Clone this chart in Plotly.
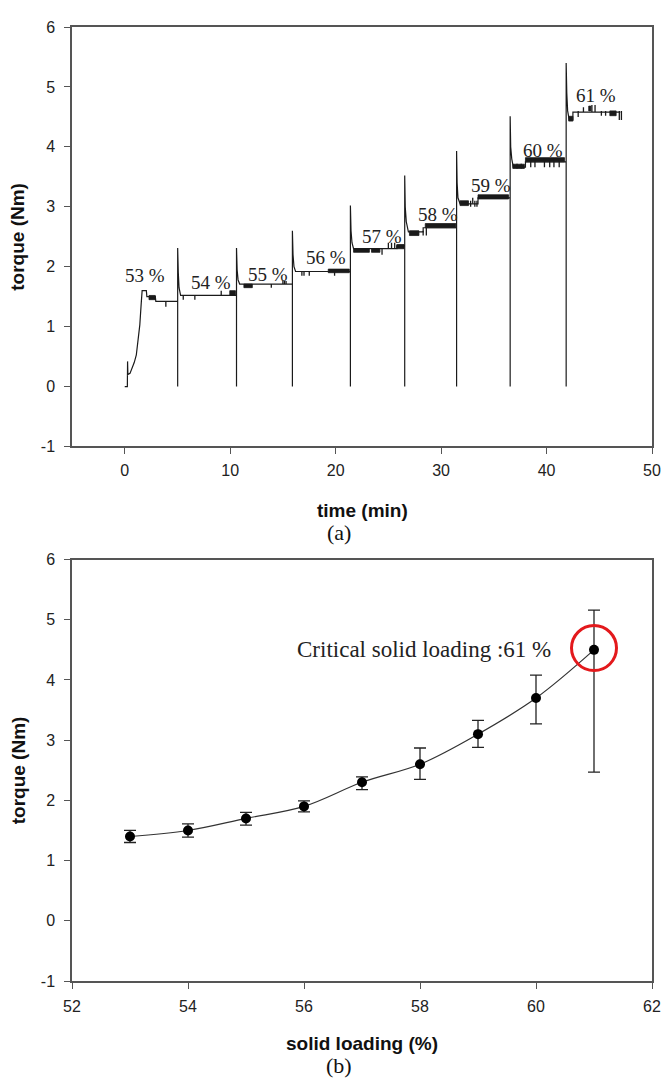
import plotly.graph_objects as go

# ---------------- (a) torque vs time ----------------
time_min = [0, 0.25, 0.27, 0.3, 0.5, 0.7, 0.9, 1.1, 1.3, 1.43, 1.55, 1.65, 2.05, 2.1, 2.9, 2.95, 5.02,
            5.02, 5.02, 5.08, 5.15, 5.3, 10.6,
            10.6, 10.6, 10.66, 10.75, 10.9, 15.9,
            15.9, 15.9, 15.96, 16.05, 16.2, 21.4,
            21.4, 21.4, 21.46, 21.55, 21.7, 25.8, 25.8, 26.55,
            26.55, 26.55, 26.6, 26.7, 26.9, 28.3, 28.3, 31.47,
            31.47, 31.47, 31.52, 31.6, 31.8, 33.5, 33.5, 36.55,
            36.55, 36.55, 36.6, 36.7, 36.85, 38.0, 38.0, 41.86,
            41.86, 41.86, 41.92, 42.0, 42.15, 42.5, 42.5, 47.0]
torque_nm = [0, 0, 0.42, 0.2, 0.22, 0.3, 0.4, 0.53, 0.8, 1.03, 1.35, 1.6, 1.6, 1.5, 1.5, 1.42, 1.42,
             0, 2.31, 1.9, 1.65, 1.52, 1.52,
             0, 2.31, 1.95, 1.78, 1.71, 1.71,
             0, 2.6, 2.2, 2.0, 1.92, 1.92,
             0, 3.02, 2.6, 2.4, 2.3, 2.3, 2.35, 2.35,
             0, 3.52, 3.0, 2.75, 2.58, 2.58, 2.65, 2.65,
             0, 3.93, 3.4, 3.15, 3.05, 3.05, 3.15, 3.15,
             0, 4.51, 4.0, 3.8, 3.66, 3.66, 3.75, 3.75,
             0, 5.4, 4.9, 4.6, 4.45, 4.45, 4.58, 4.58]

# small fluctuation ticks (time, low, high)
tick_t = [3.9, 5.55, 6.65, 9.15, 13.9, 15.0, 15.15, 15.3, 16.8, 17.0, 17.5, 19.9,
          24.4, 25.0, 25.3, 25.6, 28.3, 28.6, 32.8, 33.0, 33.2, 33.4,
          37.2, 37.6, 38.5, 38.9, 39.8, 40.3, 40.7, 41.2,
          43.0, 43.5, 44.3, 44.6, 45.2, 45.6, 46.9, 47.1]
tick_lo = [1.33, 1.45, 1.45, 1.52, 1.65, 1.71, 1.71, 1.71, 1.85, 1.85, 1.85, 1.85,
           2.2, 2.3, 2.3, 2.3, 2.52, 2.52, 3.0, 3.05, 3.0, 3.0,
           3.64, 3.64, 3.66, 3.66, 3.66, 3.66, 3.66, 3.66,
           4.5, 4.58, 4.58, 4.58, 4.52, 4.52, 4.45, 4.45]
tick_hi = [1.42, 1.52, 1.52, 1.6, 1.71, 1.76, 1.76, 1.76, 1.92, 1.92, 1.92, 1.92,
           2.3, 2.4, 2.4, 2.4, 2.6, 2.65, 3.1, 3.15, 3.1, 3.1,
           3.72, 3.72, 3.8, 3.8, 3.8, 3.8, 3.8, 3.8,
           4.6, 4.66, 4.7, 4.7, 4.6, 4.6, 4.6, 4.6]

# dense noise bands (t start, t end, low, high)
band_t0 = [2.3, 9.96, 11.3, 19.3, 21.7, 23.4, 25.8, 27.0, 28.5, 31.8, 33.5, 36.8, 38.0, 42.1, 44.0, 46.0]
band_t1 = [2.9, 10.5, 12.1, 21.3, 23.2, 24.2, 26.5, 27.9, 31.4, 32.6, 36.4, 37.9, 41.7, 42.5, 44.2, 46.6]
band_lo = [1.45, 1.52, 1.65, 1.9, 2.24, 2.24, 2.3, 2.52, 2.65, 3.02, 3.13, 3.64, 3.75, 4.43, 4.6, 4.52]
band_hi = [1.52, 1.6, 1.71, 1.96, 2.3, 2.3, 2.37, 2.6, 2.72, 3.1, 3.2, 3.71, 3.82, 4.51, 4.68, 4.6]

step_labels = ["53 %", "54 %", "55 %", "56 %", "57 %", "58 %", "59 %", "60 %", "61 %"]
label_t = [1.9, 8.2, 13.6, 19.1, 24.4, 29.7, 34.7, 39.7, 44.7]
label_v = [1.85, 1.74, 1.875, 2.15, 2.5, 2.87, 3.35, 3.94, 4.85]

# ---------------- (b) torque vs solid loading ----------------
loading = [53, 54, 55, 56, 57, 58, 59, 60, 61]
torque_mean = [1.4, 1.5, 1.7, 1.9, 2.3, 2.6, 3.1, 3.7, 4.5]
err_plus = [0.1, 0.11, 0.1, 0.09, 0.09, 0.27, 0.23, 0.38, 0.66]
err_minus = [0.1, 0.11, 0.11, 0.09, 0.12, 0.25, 0.22, 0.43, 2.03]
highlight_loading = [61]
highlight_torque = [4.53]

x_ticks_a = [0, 10, 20, 30, 40, 50]
x_ticks_b = [52, 54, 56, 58, 60, 62]
y_ticks = [-1, 0, 1, 2, 3, 4, 5, 6]
y_tick_labels = ["-1", "0", "1", "2", "3", "4", "5", "6"]

AX = "#555555"
INK = "#1a1a1a"
SANS = "Liberation Sans, Arial, sans-serif"
SERIF = "Liberation Serif, Times New Roman, serif"

fig = go.Figure()

# noise bands as filled rectangles
bx, by = [], []
for t0, t1, lo, hi in zip(band_t0, band_t1, band_lo, band_hi):
    bx += [t0, t1, t1, t0, t0, None]
    by += [lo, lo, hi, hi, lo, None]
fig.add_trace(go.Scatter(x=bx, y=by, mode="lines", fill="toself", fillcolor=INK,
                         line=dict(color=INK, width=0.8), xaxis="x", yaxis="y",
                         hoverinfo="skip", showlegend=False))

# fluctuation ticks
tx, ty = [], []
for t, lo, hi in zip(tick_t, tick_lo, tick_hi):
    tx += [t, t, None]
    ty += [lo, hi, None]
fig.add_trace(go.Scatter(x=tx, y=ty, mode="lines", line=dict(color=INK, width=1.3),
                         xaxis="x", yaxis="y", showlegend=False))

# main torque trace
fig.add_trace(go.Scatter(x=time_min, y=torque_nm, mode="lines",
                         line=dict(color=INK, width=1.2), xaxis="x", yaxis="y",
                         showlegend=False))

# bottom: mean torque with error bars
fig.add_trace(go.Scatter(x=loading, y=torque_mean, mode="lines+markers",
                         line=dict(color="#333333", width=1.2, shape="spline"),
                         marker=dict(color="black", size=10),
                         error_y=dict(type="data", array=err_plus, arrayminus=err_minus,
                                      color="#222222", thickness=1.3, width=6),
                         xaxis="x2", yaxis="y2", showlegend=False))

# red highlight circle
fig.add_trace(go.Scatter(x=highlight_loading, y=highlight_torque, mode="markers",
                         marker=dict(symbol="circle-open", size=45, color="#e3191c",
                                     line=dict(width=3, color="#e3191c")),
                         xaxis="x2", yaxis="y2", showlegend=False))

axis_common = dict(showline=True, linecolor=AX, linewidth=1.5, mirror=True,
                   ticks="outside", ticklen=6, tickwidth=1.3, tickcolor=AX,
                   showgrid=False, zeroline=False,
                   tickfont=dict(family=SANS, size=16, color="#222222"))

TOP_DOM = [0.5603, 1.0]
BOT_DOM = [0.0, 0.4418]

# the page adds an 8 px body margin; figure is sized to fill the rest of the window
fig.update_layout(
    width=664, height=1071,
    margin=dict(l=64, r=11, t=11, b=98),
    paper_bgcolor="white", plot_bgcolor="white",
    xaxis=dict(domain=[0, 1], anchor="y", range=[-5, 50], tickvals=x_ticks_a,
               ticklabelstandoff=3, **axis_common),
    yaxis=dict(domain=TOP_DOM, anchor="x", range=[-1, 6], tickmode="array",
               tickvals=y_ticks, ticktext=y_tick_labels,
               ticklabelstandoff=6, **axis_common),
    xaxis2=dict(domain=[0, 1], anchor="y2", range=[52, 62], tickvals=x_ticks_b,
                ticklabelstandoff=4, **axis_common),
    yaxis2=dict(domain=BOT_DOM, anchor="x2", range=[-1, 6], tickmode="array",
                tickvals=y_ticks, ticktext=y_tick_labels,
                ticklabelstandoff=6, **axis_common),
)

ann = []
for txt, t, v in zip(step_labels, label_t, label_v):
    ann.append(dict(x=t, y=v, xref="x", yref="y", text=txt, showarrow=False,
                    font=dict(family=SERIF, size=19, color="#222222")))

ann.append(dict(x=55.85, y=4.5, xref="x2", yref="y2", xanchor="left",
                text="Critical solid loading :61 %", showarrow=False,
                font=dict(family=SERIF, size=23, color="#222222")))

for dom in (TOP_DOM, BOT_DOM):
    ann.append(dict(x=0, xref="paper", xshift=-54, xanchor="center",
                    y=(dom[0] + dom[1]) / 2, yref="paper", yanchor="middle",
                    text="<b>torque (Nm)</b>", textangle=-90, showarrow=False,
                    font=dict(family=SANS, size=19, color="#111111")))

ann.append(dict(x=0.5, y=0.4937, xref="paper", yref="paper", yanchor="middle",
                text="<b>time (min)</b>", showarrow=False,
                font=dict(family=SANS, size=19, color="#111111")))
ann.append(dict(x=0.46, y=0.4705, xref="paper", yref="paper", yanchor="middle",
                text="(a)", showarrow=False,
                font=dict(family=SERIF, size=22, color="#111111")))
ann.append(dict(x=0.5, y=-0.0655, xref="paper", yref="paper", yanchor="middle",
                text="<b>solid loading (%)</b>", showarrow=False,
                font=dict(family=SANS, size=19, color="#111111")))
ann.append(dict(x=0.46, y=-0.0885, xref="paper", yref="paper", yanchor="middle",
                text="(b)", showarrow=False,
                font=dict(family=SERIF, size=22, color="#111111")))

fig.update_layout(annotations=ann)

fig.write_html("out.html")
